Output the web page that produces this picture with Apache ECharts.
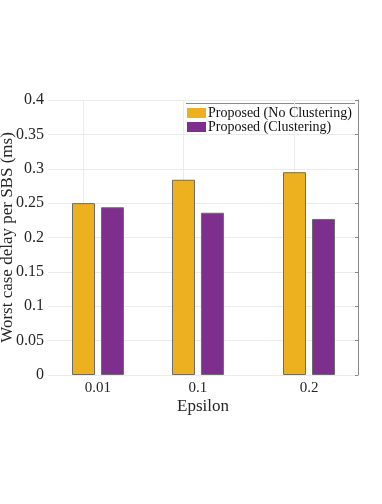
<!DOCTYPE html>
<html>
<head>
<meta charset="utf-8">
<script src="https://cdn.jsdelivr.net/npm/echarts@6/dist/echarts.min.js"></script>
<style>
  html, body { margin: 0; padding: 0; background: #fff; }
  #chart { width: 382px; height: 504px; }
</style>
</head>
<body>
<div id="chart"></div>
<script>
// epsilon values (x positions on a linear axis)
const epsilons = [0.01, 0.1, 0.2];
const noClustering = [0.250, 0.284, 0.295];
const clustering = [0.244, 0.236, 0.227];
const yTicks = [0, 0.05, 0.1, 0.15, 0.2, 0.25, 0.3, 0.35, 0.4];
const seriesNames = ["Proposed (No Clustering)", "Proposed (Clustering)"];

const font = "Liberation Serif";
const chart = echarts.init(document.getElementById("chart"));

const option = {
  backgroundColor: "#fff",
  animation: false,
  grid: { left: 48, right: 24, top: 100, bottom: 129, outerBoundsMode: "none", containLabel: false },
  legend: {
    orient: "vertical",
    left: 187,
    top: 106,
    padding: 0,
    itemWidth: 19,
    itemHeight: 10,
    itemGap: 0,
    icon: "rect",
    data: seriesNames,
    itemStyle: { borderWidth: 0 },
    textStyle: { fontFamily: font, fontSize: 14, lineHeight: 14, color: "#111", padding: [0, 0, 0, -3] },
  },
  xAxis: {
    type: "value",
    min: -0.035,
    max: 0.2441,
    name: "Epsilon",
    nameLocation: "middle",
    nameGap: 23,
    nameMoveOverlap: false,
    nameTextStyle: { fontFamily: font, fontSize: 17, color: "#262626" },
    axisLine: { show: false },
    axisTick: { show: false },
    splitLine: { show: false },
    axisLabel: {
      customValues: epsilons,
      formatter: (v) => String(v),
      fontFamily: font,
      fontSize: 15,
      color: "#262626",
      margin: 6,
    },
  },
  yAxis: [
    {
      type: "value",
      min: 0,
      max: 0.4,
      interval: 0.05,
      name: "Worst case delay per SBS (ms)",
      nameLocation: "middle",
      nameGap: 32,
      nameMoveOverlap: false,
      nameTextStyle: { fontFamily: font, fontSize: 17, color: "#262626" },
      axisLine: { show: false },
      axisTick: { show: false },
      splitLine: { show: true, lineStyle: { color: "#ebebeb", width: 1 } },
      axisLabel: {
        fontFamily: font,
        fontSize: 16,
        color: "#262626",
        margin: 4,
        formatter: (v) => {
          const t = yTicks.find((k) => Math.abs(k - v) < 1e-9);
          return t === undefined ? "" : String(t);
        },
      },
    },
    {
      type: "value",
      min: 0,
      max: 0.4,
      interval: 0.05,
      position: "right",
      axisLine: { show: true, lineStyle: { color: "#8a8a8a", width: 1 } },
      axisTick: { show: true, inside: true, length: 3, lineStyle: { color: "#8a8a8a" } },
      axisLabel: { show: false },
      splitLine: { show: false },
    },
  ],
  series: [
    {
      name: seriesNames[0],
      type: "bar",
      barWidth: 23,
      barGap: "26%",
      data: epsilons.map((e, i) => [e, noClustering[i]]),
      itemStyle: { color: "#EDB120", borderColor: "#6b6b6b", borderWidth: 1 },
      markLine: {
        silent: true,
        symbol: "none",
        label: { show: false },
        lineStyle: { color: "#ebebeb", type: "solid", width: 1 },
        z: 0,
        data: epsilons.map((e) => ({ xAxis: e })),
      },
    },
    {
      name: seriesNames[1],
      type: "bar",
      barWidth: 23,
      barGap: "26%",
      data: epsilons.map((e, i) => [e, clustering[i]]),
      itemStyle: { color: "#7E2F8E", borderColor: "#6b6b6b", borderWidth: 1 },
    },
  ],
  graphic: [
    {
      type: "line",
      shape: { x1: 186, y1: 103.5, x2: 355, y2: 103.5 },
      style: { stroke: "#8a8a8a", lineWidth: 1 },
    },
  ],
};

chart.setOption(option);
</script>
</body>
</html>
